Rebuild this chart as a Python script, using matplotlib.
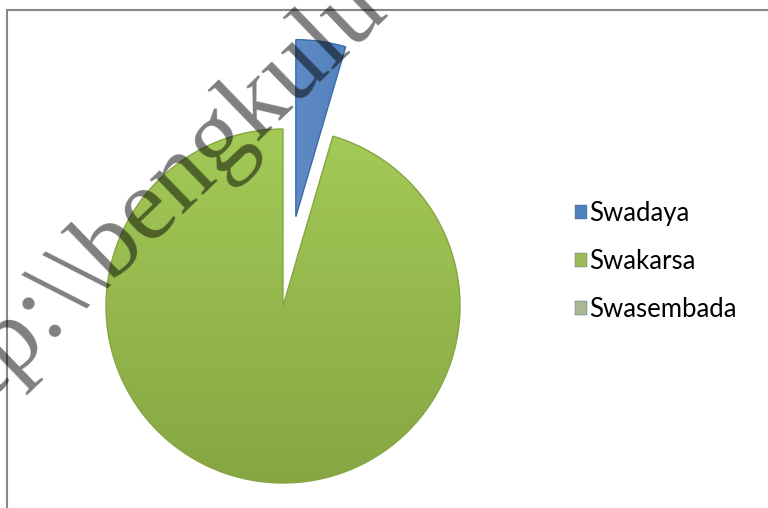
import numpy as np
import matplotlib
matplotlib.use("Agg")
import matplotlib.pyplot as plt
from matplotlib.colors import LinearSegmentedColormap
from matplotlib.patches import Wedge, Rectangle

# data
labels = ["Swadaya", "Swakarsa", "Swasembada"]
values = [1, 21, 0]
colors = ["#4F81BD", "#9BBB59", "#A9B892"]
grad_hi = ["#7DA9E0", "#A3CA57", "#C9D6B4"]
grad_lo = ["#3E6CA8", "#86A643", "#96A67C"]
explode_frac = [0.51, 0, 0]

R = 177  # pie radius in pixels
fig = plt.figure(figsize=(7.68, 5.08), dpi=100)
ax = fig.add_axes([0, 0, 1, 1])

# pie's explode works in data units, so scale by the radius
wedges, _ = ax.pie(values, colors=colors, explode=[e * R for e in explode_frac],
                   startangle=90, counterclock=False, center=(283, 202), radius=R,
                   wedgeprops=dict(linewidth=0))

# fake the bevelled office look with a gradient clipped to each slice
for i, w in enumerate(wedges):
    if values[i] == 0:
        continue
    cx, cy = w.center
    r = w.r
    cmap = LinearSegmentedColormap.from_list("g%d" % i, [grad_lo[i], grad_hi[i]])
    if i == 0:
        grad = np.linspace(1, 0, 256).reshape(1, -1)
    else:
        grad = np.linspace(0, 1, 256).reshape(-1, 1)
    im = ax.imshow(grad, extent=(cx - r, cx + r, cy - r, cy + r), origin="lower",
                   cmap=cmap, aspect="auto", zorder=2, interpolation="bilinear")
    im.set_clip_path(w)
    ax.add_patch(Wedge(w.center, w.r, w.theta1, w.theta2, fill=False,
                       edgecolor=grad_lo[i], linewidth=1.0, zorder=3))

ax.set_xlim(0, 768)
ax.set_ylim(0, 508)
ax.set_aspect("equal")
ax.axis("off")

# chart border (right and bottom fall outside the picture)
fig.patches.append(Rectangle((7 / 768, -0.1), 1.2, (508 - 10) / 508 + 0.1,
                             transform=fig.transFigure, fill=False,
                             edgecolor="#878787", linewidth=1.5))

leg = fig.legend(wedges, labels, loc="upper left", bbox_to_anchor=(575 / 768, 1 - 201 / 508),
                 frameon=False, handlelength=0.46, handleheight=0.46, handletextpad=0.1,
                 labelspacing=0.89, borderpad=0, borderaxespad=0,
                 prop=dict(family="Lato", size=18.5))
for h in leg.legend_handles:
    h.set_edgecolor("#5b6b7a")
    h.set_linewidth(0.3)

# watermark
fig.text(-67 / 768, 1 - 455 / 508, "http:\\\\bengkulu", rotation=44, rotation_mode="anchor",
         ha="left", va="baseline", fontsize=75, family="Liberation Serif",
         color="black", alpha=0.5, zorder=10)

fig.savefig("out.png", dpi=100)
